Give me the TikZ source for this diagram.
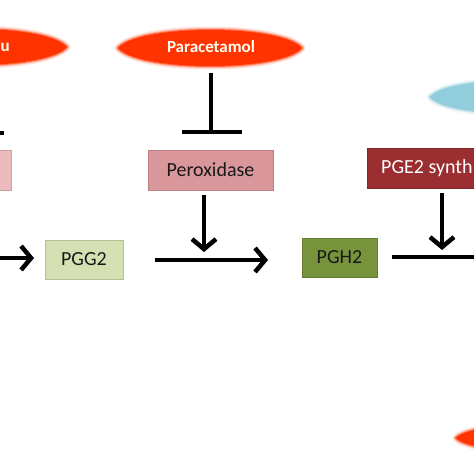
\documentclass[tikz,border=0pt]{standalone}
\usepackage{fontspec}
\setmainfont{Carlito}
\usetikzlibrary{arrows.meta}
\definecolor{redov}{HTML}{FF3300}
\definecolor{perox}{HTML}{D9969B}
\definecolor{lpink}{HTML}{EDBBBE}
\definecolor{pgg}{HTML}{D4E1B3}
\definecolor{pgh}{HTML}{77933C}
\definecolor{pge}{HTML}{9B2E31}
\definecolor{lblue}{HTML}{92CDDC}
\newcommand\lenspath[4]{%
  (#1-#3,#2) .. controls (#1-0.9*#3,#2-0.6*#4) and (#1-0.5*#3,#2-#4) .. (#1,#2-#4)
  .. controls (#1+0.5*#3,#2-#4) and (#1+0.9*#3,#2-0.6*#4) .. (#1+#3,#2)
  .. controls (#1+0.9*#3,#2+0.6*#4) and (#1+0.5*#3,#2+#4) .. (#1,#2+#4)
  .. controls (#1-0.5*#3,#2+#4) and (#1-0.9*#3,#2+0.6*#4) .. cycle}
\newcommand\lensblob[5]{%
  \foreach \w/\o in {7/0.15,4/0.3,2/0.5}{%
    \draw[#5,line width=\w pt,opacity=\o,line join=round] \lenspath{#1}{#2}{#3}{#4};}
  \fill[#5] \lenspath{#1}{#2}{#3}{#4};}
\begin{document}
\begin{tikzpicture}[x=1pt,y=-1pt,
  box/.style={rectangle,minimum height=40pt,inner sep=0pt,font=\fontsize{20}{24}\selectfont,text=black!90},
  arr/.style={line width=4.5pt,-{Straight Barb[length=10pt,width=24pt,line width=4.5pt]}},
  thickline/.style={line width=4.5pt},
  blobtext/.style={font=\bfseries\fontsize{17}{20}\selectfont,text=white!96!yellow}]
\useasboundingbox (0,0) rectangle (474,474);
\clip (0,0) rectangle (474,474);
% blobs
\lensblob{-25}{47}{92}{18}{redov}
\lensblob{210}{48}{92}{18}{redov}
\lensblob{510}{97}{80}{16}{lblue}
\lensblob{530}{438}{74}{13}{redov}
\node[blobtext,anchor=west,inner sep=0pt] (ibu) at (0.5,47) {u};
\node[blobtext] (para) at (211,47) {Paracetamol};
% boxes
\node[box,fill=lpink,draw=lpink!85!black,line width=0.6pt,minimum width=102pt] (cox) at (-40,170) {};
\node[box,fill=perox,draw=perox!85!black,line width=0.6pt,minimum width=125pt] (perox) at (210.5,170) {Peroxidase};
\node[box,fill=pge,draw=pge!85!black,line width=0.6pt,minimum width=140pt] (pges) at (437,168) {};
\node[box,anchor=west,text=white] (pgestext) at (381,168) {PGE2 synth};
\node[box,fill=pgg,draw=pgg!85!black,line width=0.6pt,minimum width=78pt,minimum height=39pt] (pgg) at (84,259.5) {PGG2};
\node[box,fill=pgh,draw=pgh!85!black,line width=0.6pt,minimum width=75pt,minimum height=39pt] (pgh) at (339.5,257.5) {PGH2};
% inhibition from paracetamol
\coordinate (tTop) at (211,73);
\coordinate (tBot) at (211,132);
\coordinate (tL) at (182,132);
\coordinate (tR) at (242,132);
\draw[thickline] (tTop) -- (tBot);
\draw[thickline] (tL) -- (tR);
% left inhibition bar end
\coordinate (lbL) at (-30,133);
\coordinate (lbR) at (4,133);
\draw[thickline] (lbL) -- (lbR);
% main flow
\coordinate (a0) at (-10,258);
\coordinate (a1) at (34,258);
\draw[arr] (a0) -- (a1);
\coordinate (b0) at (155,260);
\coordinate (b1) at (268,260);
\draw[arr] (b0) -- (b1);
\coordinate (c0) at (392,257);
\coordinate (c1) at (480,257);
\draw[thickline] (c0) -- (c1);
% enzyme arrows
\coordinate (p0) at (204,195);
\coordinate (p1) at (204,252);
\draw[arr] (p0) -- (p1);
\coordinate (g0) at (442,193);
\coordinate (g1) at (442,250);
\draw[arr] (g0) -- (g1);
\end{tikzpicture}
\end{document}
